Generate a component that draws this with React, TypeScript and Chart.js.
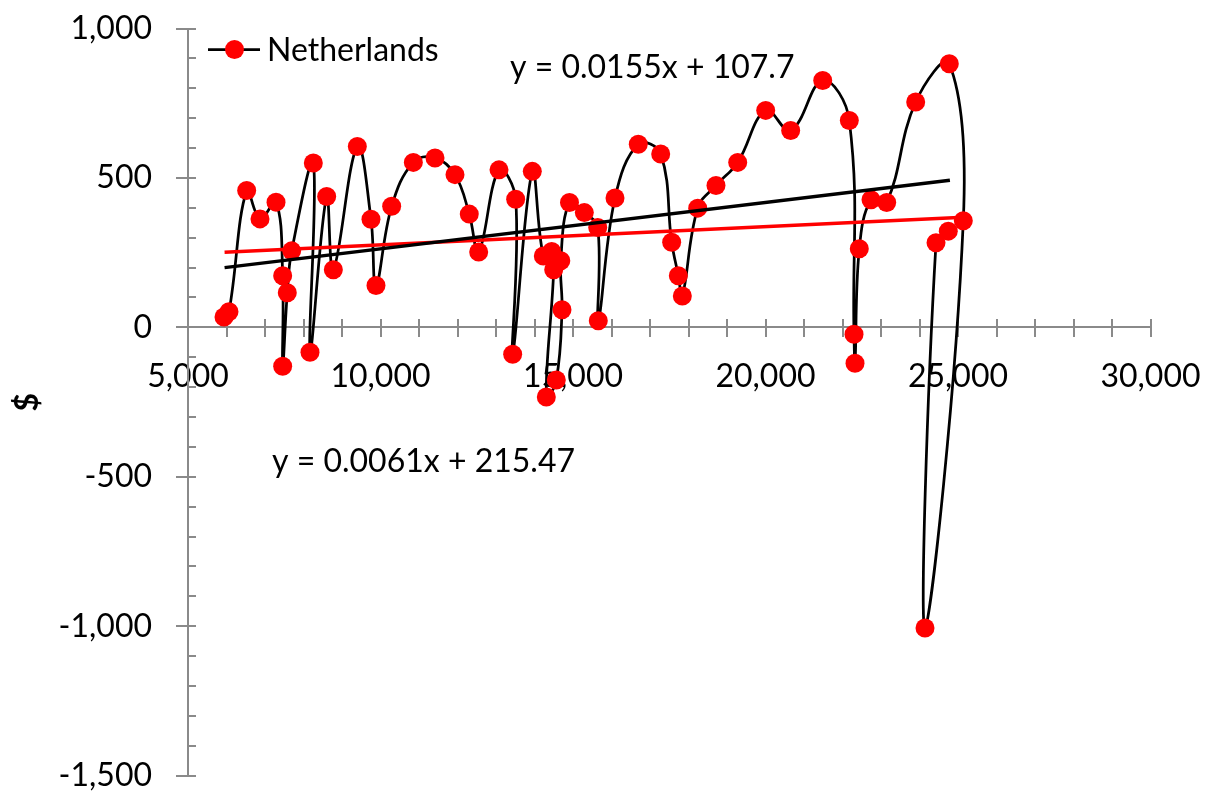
import React, { useEffect, useRef } from 'react';
import { Chart, registerables } from 'chart.js';

Chart.register(...registerables);

const seriesName = 'Netherlands';

// data points in series order (x = income, y = $)
const xValues = [5935, 6065, 6524, 6870, 7286, 7459, 7459, 7579, 7693, 8255, 8169, 8602, 8775, 9398, 9753, 9883, 10290, 10853, 11416, 11935, 12306, 12550, 13078, 13511, 13433, 13943, 14229, 14447, 14499, 14307, 14566, 14714, 14683, 14909, 15294, 15642, 15657, 16091, 16696, 17278, 17563, 17736, 17840, 18239, 18714, 19278, 20005, 20654, 21486, 22177, 22299, 22325, 22436, 22740, 23148, 23901, 24774, 25138, 24143, 24429, 24748];
const yValues = [35, 52, 458, 363, 419, 173, -130, 116, 256, 550, -83, 438, 193, 605, 362, 140, 405, 552, 567, 511, 379, 252, 527, 429, -90, 522, 239, 254, 193, -233, -176, 59, 223, 418, 384, 334, 22, 433, 613, 580, 285, 173, 105, 399, 475, 552, 726, 659, 826, 692, -23, -120, 263, 427, 418, 754, 882, 357, -1006, 283, 322];

// trendlines (black, red)
const trendColors = ['#000000', '#ff0000'];
const trendSlopes = [0.0155, 0.0061];
const trendIntercepts = [107.7, 215.47];
const trendXStart = [5950, 5950];
const trendXEnd = [24790, 25150];
const trendLabels = ['y = 0.0155x + 107.7', 'y = 0.0061x + 215.47'];

// axes
const xMin = 5000;
const xMax = 30000;
const xStep = 5000;
const xMinorStep = 1000;
const yMin = -1500;
const yMax = 1000;
const yStep = 500;
const yMinorStep = 100;
const yTitle = '$';

const FONT = 'Lato';
const AXIS_COLOR = '#8a8a8a';

const fmt = (v: number) => Number(v).toLocaleString('en-US');

const zeroPad = (s: any) => {
  s.paddingTop = 0;
  s.paddingBottom = 0;
  s.paddingLeft = 0;
  s.paddingRight = 0;
};

const axisPlugin = {
  id: 'excelAxes',
  beforeDatasetsDraw(chart: any) {
    const { ctx, scales } = chart;
    const xs = scales.x;
    const ys = scales.y;
    const x0 = Math.round(xs.getPixelForValue(xMin));
    const x1 = Math.round(xs.getPixelForValue(xMax));
    const yTop = Math.round(ys.getPixelForValue(yMax));
    const yBot = Math.round(ys.getPixelForValue(yMin));
    const y0 = Math.round(ys.getPixelForValue(0));
    ctx.save();
    ctx.strokeStyle = AXIS_COLOR;
    ctx.lineWidth = 2;
    ctx.beginPath();
    ctx.moveTo(x0, yTop);
    ctx.lineTo(x0, yBot);
    ctx.moveTo(x0, y0);
    ctx.lineTo(x1, y0);
    for (let v = yMin; v <= yMax; v += yMinorStep) {
      const py = Math.round(ys.getPixelForValue(v));
      const major = v % yStep === 0;
      ctx.moveTo(major ? x0 - 12 : x0, py);
      ctx.lineTo(x0 + 8, py);
    }
    for (let v = xMin + xMinorStep; v <= xMax; v += xMinorStep) {
      const px = Math.round(xs.getPixelForValue(v));
      ctx.moveTo(px, y0 - 8);
      ctx.lineTo(px, y0 + 10);
    }
    ctx.stroke();
    ctx.restore();
  },
};

const overlayPlugin = {
  id: 'overlay',
  afterDraw(chart: any) {
    const { ctx, chartArea } = chart;
    const L = chartArea.left;
    const T = chartArea.top;
    ctx.save();
    // legend
    const ly = T + 21;
    ctx.strokeStyle = '#000';
    ctx.lineWidth = 2.75;
    ctx.beginPath();
    ctx.moveTo(L + 20, ly);
    ctx.lineTo(L + 72, ly);
    ctx.stroke();
    ctx.fillStyle = '#ff0000';
    ctx.beginPath();
    ctx.arc(L + 46.5, ly, 9.5, 0, Math.PI * 2);
    ctx.fill();
    ctx.fillStyle = '#000';
    ctx.font = `32px ${FONT}`;
    ctx.textBaseline = 'middle';
    ctx.textAlign = 'left';
    ctx.fillText(seriesName, L + 79, ly + 1);
    // trendline equations
    ctx.fillText(trendLabels[0], L + 322, T + 39);
    ctx.fillText(trendLabels[1], L + 84, T + 433);
    ctx.restore();
  },
};

export default function App() {
  const ref = useRef<HTMLCanvasElement>(null);
  useEffect(() => {
    const canvas = ref.current;
    if (!canvas) return;
    const points = xValues.map((x, i) => ({ x, y: yValues[i] }));
    const trendSets = trendSlopes.map((m, i) => ({
      label: 'trend' + i,
      data: [
        { x: trendXStart[i], y: m * trendXStart[i] + trendIntercepts[i] },
        { x: trendXEnd[i], y: m * trendXEnd[i] + trendIntercepts[i] },
      ],
      showLine: true,
      borderColor: trendColors[i],
      borderWidth: 3.5,
      pointRadius: 0,
      tension: 0,
      order: 0,
    }));
    const chart = new Chart(canvas, {
      type: 'scatter',
      data: {
        datasets: [
          ...trendSets,
          {
            label: seriesName,
            data: points,
            showLine: true,
            borderColor: '#000000',
            borderWidth: 2.75,
            tension: 0.4,
            pointRadius: 9.5,
            pointBorderWidth: 0,
            pointBackgroundColor: '#ff0000',
            pointBorderColor: '#ff0000',
            order: 1,
          } as any,
        ],
      },
      options: {
        responsive: true,
        maintainAspectRatio: false,
        animation: false,
        layout: { padding: { top: 28.5, right: 62.5, bottom: 19.3, left: 0 } },
        plugins: { legend: { display: false }, tooltip: { enabled: false } },
        scales: {
          x: {
            type: 'linear',
            min: xMin,
            max: xMax,
            position: { y: 0 } as any,
            afterFit: (s: any) => {
              s.height = 0;
              zeroPad(s);
            },
            grid: { display: false, drawTicks: false },
            border: { display: false },
            ticks: {
              stepSize: xStep,
              padding: 30,
              color: '#000',
              maxRotation: 0,
              autoSkip: false,
              font: { family: FONT, size: 32 },
              callback: (v: any) => fmt(v),
            },
          },
          y: {
            type: 'linear',
            min: yMin,
            max: yMax,
            afterFit: (s: any) => {
              s.width = 188;
              zeroPad(s);
            },
            grid: { display: false, drawTicks: false },
            border: { display: false },
            ticks: {
              stepSize: yStep,
              padding: 36,
              color: '#000',
              font: { family: FONT, size: 32 },
              callback: (v: any) => fmt(v),
            },
            title: {
              display: true,
              text: yTitle,
              color: '#000',
              font: { family: FONT, size: 32, weight: 'bold' },
              padding: { top: 8, bottom: 0 },
            },
          },
        },
      } as any,
      plugins: [axisPlugin, overlayPlugin],
    });
    return () => chart.destroy();
  }, []);
  return (
    <div style={{ position: 'fixed', left: 0, top: 0, width: 1213, height: 795, background: '#fff' }}>
      <canvas ref={ref} />
    </div>
  );
}
